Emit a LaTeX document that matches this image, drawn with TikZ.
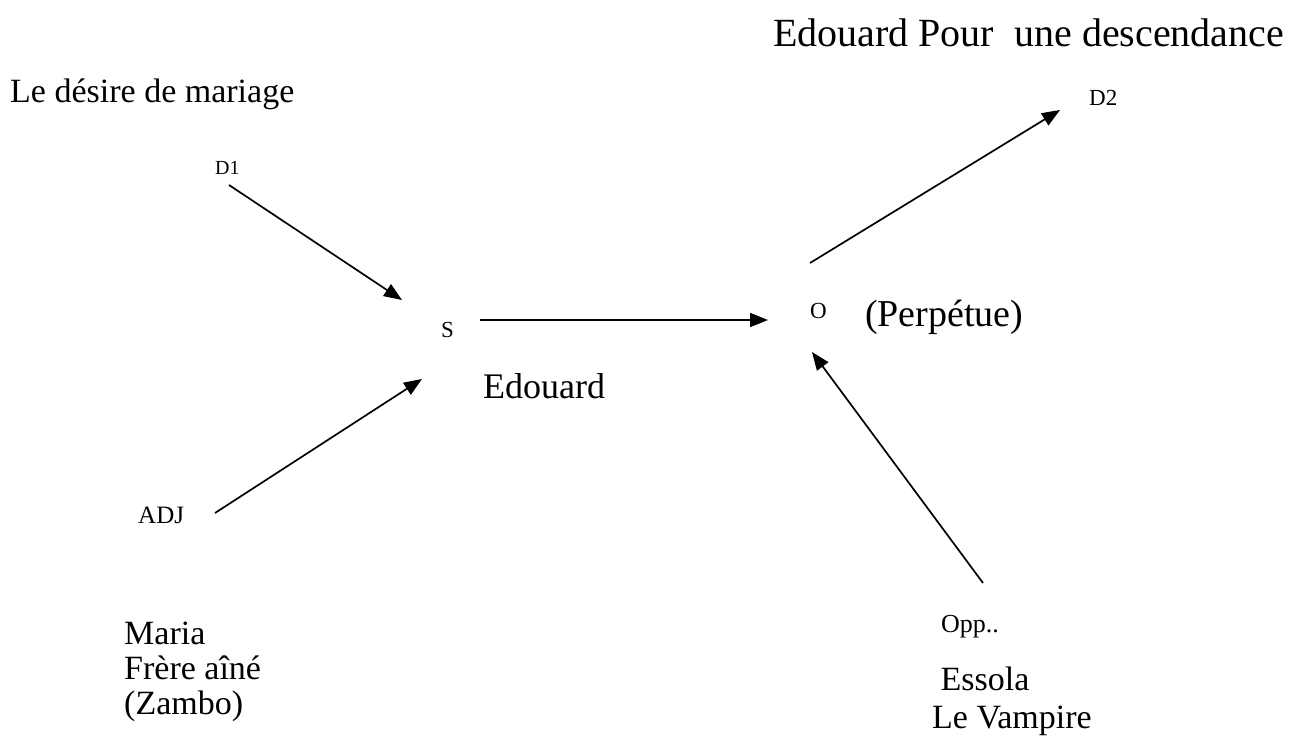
\documentclass[tikz,border=0pt]{standalone}
\usepackage{fontspec}
\setmainfont{Liberation Serif}
\usetikzlibrary{arrows.meta}
\begin{document}
\begin{tikzpicture}[x=1pt,y=-1pt,
  big/.style={anchor=base west,inner sep=0pt,font=\fontsize{34}{35}\selectfont},
  small/.style={anchor=base west,inner sep=0pt,font=\fontsize{23}{24}\selectfont},
  multi/.style={big,anchor=north west,align=left},
  link/.style={line width=1.7pt,-{Triangle[length=18pt,width=14pt]}}]
\useasboundingbox (0,0) rectangle (1298,745);

% actant labels
\node[big,font=\fontsize{40}{40}\selectfont] (desc) at (773,46) {Edouard Pour\ \ une descendance};
\node[big]   (desire) at (10,102)  {Le désire de mariage};
\node[small,font=\fontsize{20}{22}\selectfont] (D1) at (215,174) {D1};
\node[small] (D2)     at (1089,105) {D2};
\node[small] (S)      at (441,337) {S};
\node[small] (O)      at (810,318) {O};
\node[big,font=\fontsize{38}{38}\selectfont] (perp) at (865,326) {(Perpétue)};
\node[big,font=\fontsize{36}{36}\selectfont] (edo)  at (483,398) {Edouard};
\node[small,font=\fontsize{25}{25}\selectfont] (ADJ) at (138,523) {ADJ};
\node[small,font=\fontsize{26}{26}\selectfont] (Opp) at (941,632) {Opp..};
\node[multi] (adj)    at (124,622) {Maria\\Frère aîné\\(Zambo)};
\node[multi,font=\fontsize{34}{38}\selectfont] (opp) at (932,667) {\ Essola\\Le Vampire};

% arrow ends
\coordinate (d1a)  at (229,185);
\coordinate (d1b)  at (402,300);
\coordinate (adja) at (215,513);
\coordinate (adjb) at (422,379);
\coordinate (soa)  at (480,320);
\coordinate (sob)  at (768,320);
\coordinate (oda)  at (810,263);
\coordinate (odb)  at (1060,110);
\coordinate (oppa) at (983,583);
\coordinate (oppb) at (812,352);

\draw[link] (d1a) -- (d1b);
\draw[link] (adja) -- (adjb);
\draw[link] (soa) -- (sob);
\draw[link] (oda) -- (odb);
\draw[link] (oppa) -- (oppb);
\end{tikzpicture}
\end{document}
